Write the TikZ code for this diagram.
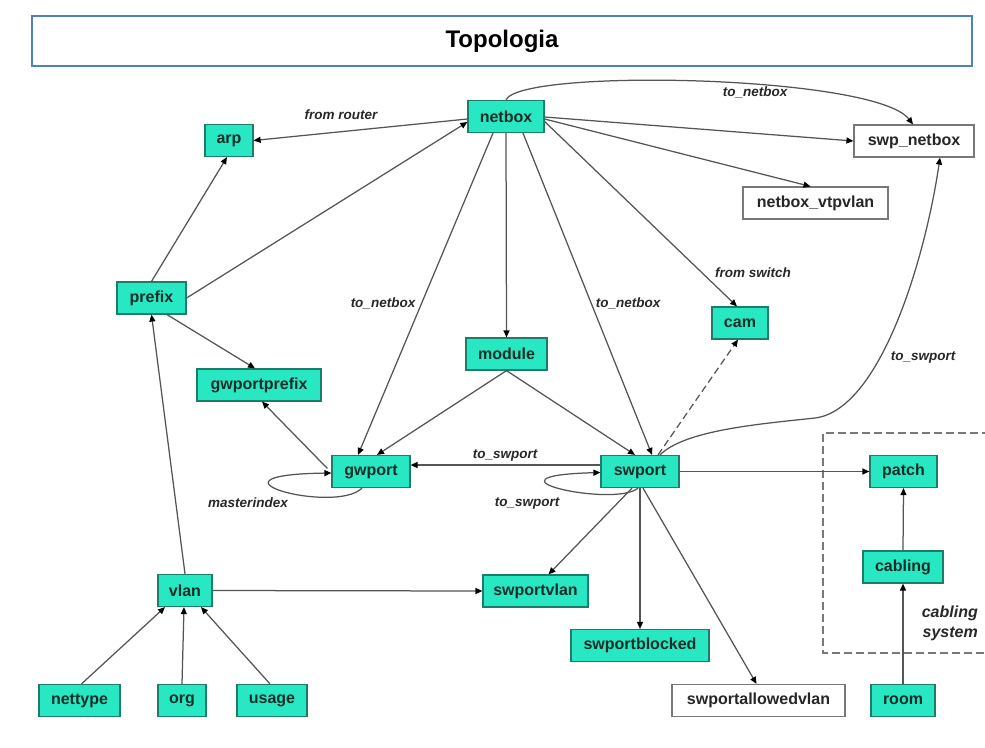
\documentclass[tikz,border=0pt]{standalone}
\usepackage{fontspec}
\setmainfont{Liberation Sans}
\usetikzlibrary{arrows.meta,calc}

\definecolor{tealfill}{RGB}{40,232,196}
\definecolor{tealedge}{RGB}{30,125,105}
\definecolor{linegray}{RGB}{85,85,85}
\definecolor{boxgray}{RGB}{120,120,120}
\definecolor{titleblue}{RGB}{79,129,189}
\definecolor{labeltext}{RGB}{40,40,40}
\definecolor{nodetext}{RGB}{20,45,38}

\tikzset{
  entity/.style={draw=tealedge, fill=tealfill, line width=1.2pt, inner sep=0pt,
    text=nodetext, font=\fontsize{16}{18}\selectfont\bfseries, minimum height=32pt},
  plainbox/.style={entity, draw=boxgray, fill=white, text=black!85},
  link/.style={draw=linegray, line width=1.25pt,
    -{Triangle[length=7pt,width=6pt,color=black]}},
  edgelabel/.style={text=labeltext, inner sep=0pt,
    font=\fontsize{13.5}{15}\selectfont\bfseries\itshape},
}

\begin{document}
\begin{tikzpicture}[x=1pt, y=-1pt]
\useasboundingbox (0,0) rectangle (985,747);
\fill[white] (0,0) rectangle (985,747);

% heading
\node[draw=titleblue, line width=1.3pt, minimum width=940pt, minimum height=50pt,
  inner sep=0pt, font=\fontsize{24}{28}\selectfont\bfseries] (title) at (502,41) {Topologia};

% cabling system frame
\draw[boxgray, line width=1.3pt, dash pattern=on 8pt off 4pt]
  (990,433) -- (823,433) -- (823,653) -- (990,653);
\node[anchor=east, align=right, text=labeltext, inner sep=0pt,
  font=\fontsize{16}{20}\selectfont\bfseries\itshape] (cablingsys) at (978,623) {cabling\\system};

% tables
\node[entity, minimum width=76pt]  (netbox)  at (506,116.5) {netbox};
\node[entity, minimum width=48pt]  (arp)     at (229,140.5) {arp};
\node[plainbox, minimum width=120pt] (swpnetbox) at (914,141) {swp\_netbox};
\node[plainbox, minimum width=145pt] (vtpvlan) at (815.5,203) {netbox\_vtpvlan};
\node[entity, minimum width=69pt]  (prefix)  at (151.5,298) {prefix};
\node[entity, minimum width=56pt]  (cam)     at (740,323) {cam};
\node[entity, minimum width=81pt]  (module)  at (506.5,354) {module};
\node[entity, minimum width=124pt] (gwportprefix) at (259,385) {gwportprefix};
\node[entity, minimum width=78pt]  (gwport)  at (371,471.5) {gwport};
\node[entity, minimum width=78pt]  (swport)  at (640,471.5) {swport};
\node[entity, minimum width=67pt]  (patch)   at (903.5,471.5) {patch};
\node[entity, minimum width=80pt]  (cabling) at (903,567) {cabling};
\node[entity, minimum width=54pt]  (vlan)    at (185,590.5) {vlan};
\node[entity, minimum width=105pt] (swportvlan) at (535.5,591) {swportvlan};
\node[entity, minimum width=138pt] (swportblocked) at (640,645.5) {swportblocked};
\node[plainbox, minimum width=173pt] (allowedvlan) at (758.5,700.5) {swportallowedvlan};
\node[entity, minimum width=64pt]  (room)    at (903,700.5) {room};
\node[entity, minimum width=81pt]  (nettype) at (79.5,700.5) {nettype};
\node[entity, minimum width=48pt]  (org)     at (182,700.5) {org};
\node[entity, minimum width=70pt]  (usage)   at (272,700.5) {usage};

% relations from netbox
\draw[link] ($(netbox.west)+(0,2.5)$) -- (arp.east);
\draw[link] (prefix.east) -- ($(netbox.west)+(0,5.5)$);
\draw[link] (netbox.north) .. controls (520,68) and (875,75) .. ($(swpnetbox.north)+(-1,0)$);
\draw[link] ($(netbox.east)+(0,0.5)$) -- (swpnetbox.west);
\draw[link] ($(netbox.east)+(0,2.5)$) -- ($(vtpvlan.north)+(-5,0)$);
\draw[link] ($(netbox.east)+(0,5)$) -- ($(cam.north)+(-3,0)$);
\draw[link] ($(netbox.south)+(-13,0)$) -- ($(gwport.north)+(-13,0)$);
\draw[link] (netbox.south) -- (module.north);
\draw[link] ($(netbox.south)+(17,0)$) -- ($(swport.north)+(12,0)$);

% prefix and friends
\draw[link] (prefix.north) -- ($(arp.south)+(-2,0)$);
\draw[link] ($(prefix.south)+(15.5,0)$) -- ($(gwportprefix.north)+(-4,0)$);
\draw[link] (vlan.north) -- (prefix.south);
\draw[link] ($(gwport.west)+(-4,-3)$) -- ($(gwportprefix.south)+(3,0)$);

% module
\draw[link] (module.south) -- ($(gwport.north)+(6,0)$);
\draw[link] (module.south) -- ($(swport.north)+(-5,0)$);

% loops
\draw[link] ($(gwport.south)+(-9,0)$) .. controls (335,515) and (190,475) .. ($(gwport.west)+(0,1.5)$);
\draw[link] ($(swport.south)+(-2,0)$) .. controls (615,508) and (470,476) .. ($(swport.west)+(0,1)$);

% swport relations
\coordinate (bend) at (815,418);
\draw[link] ($(swport.north)+(20,0)$) .. controls (685,430) and (760,424) .. (bend)
  .. controls (880,410) and (925,260) .. ($(swpnetbox.south)+(26,0)$);
\draw[link, dash pattern=on 7pt off 4pt] ($(swport.north)+(18,0)$) -- ($(cam.south)+(-2,0)$);
\draw[link] ($(swport.west)+(0,-6.5)$) -- ($(gwport.east)+(0,-6.5)$);
\draw[link] (swport.east) -- (patch.west);
\draw[link] ($(swport.south)+(-8,0)$) -- ($(swportvlan.north)+(13,0)$);
\draw[link] (swport.south) -- (swportblocked.north);
\draw[link] ($(swport.south)+(3,0)$) -- ($(allowedvlan.north)+(-2,0)$);

% cabling chain
\draw[link] (cabling.north) -- (patch.south);
\draw[link] (room.north) -- (cabling.south);

% vlan
\draw[link] (vlan.east) -- (swportvlan.west);
\draw[link] ($(nettype.north)+(2,0)$) -- ($(vlan.south)+(-20,0)$);
\draw[link] (org.north) -- ($(vlan.south)+(-1,0)$);
\draw[link] ($(usage.north)+(-2,0)$) -- ($(vlan.south)+(16,0)$);

% relation labels
\node[edgelabel] (lblrouter) at (341,115) {from router};
\node[edgelabel] (lbltop) at (755,92) {to\_netbox};
\node[edgelabel] (lblswitch) at (753,273) {from switch};
\node[edgelabel] (lblleft) at (383,303) {to\_netbox};
\node[edgelabel] (lblright) at (628,303) {to\_netbox};
\node[edgelabel] (lblcurve) at (923,357) {to\_swport};
\node[edgelabel] (lblmid) at (505,455) {to\_swport};
\node[edgelabel] (lblloop) at (527,503) {to\_swport};
\node[edgelabel] (lblmaster) at (248,503) {masterindex};
\end{tikzpicture}
\end{document}
